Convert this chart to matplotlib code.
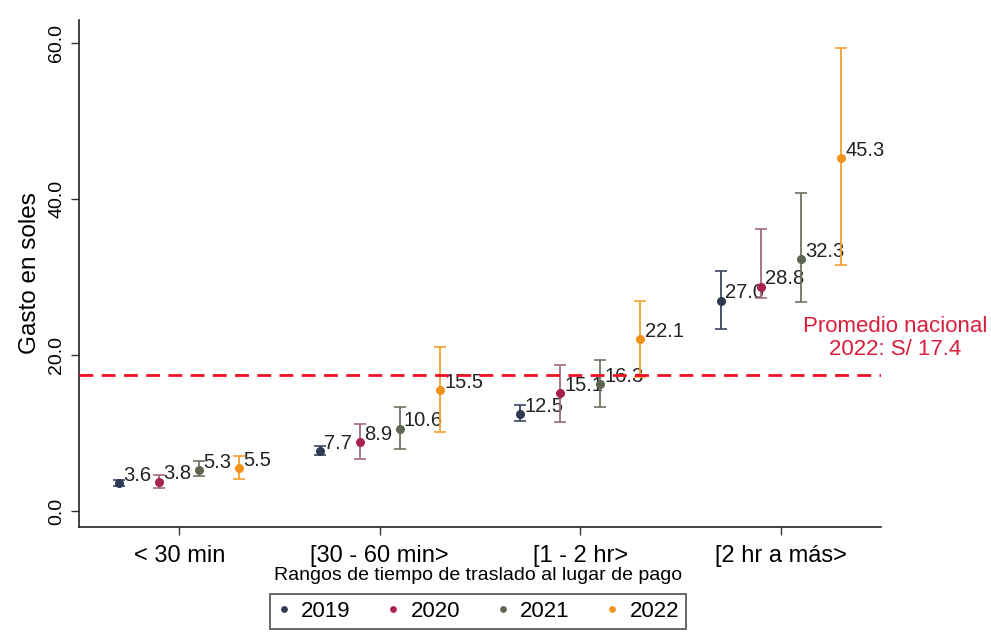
import matplotlib
matplotlib.use("Agg")
import matplotlib.pyplot as plt
import numpy as np

plt.rcParams['font.family'] = ['Liberation Sans', 'DejaVu Sans']

# ---- data ----
categories = ["< 30 min", "[30 - 60 min>", "[1 - 2 hr>", "[2 hr a más>"]
years = ["2019", "2020", "2021", "2022"]

gasto_2019 = [3.6, 7.7, 12.5, 27.0]
gasto_2020 = [3.8, 8.9, 15.1, 28.8]
gasto_2021 = [5.3, 10.6, 16.3, 32.3]
gasto_2022 = [5.5, 15.5, 22.1, 45.3]

ic_inf_2019 = [3.2, 7.2, 11.6, 23.3]
ic_sup_2019 = [4.0, 8.3, 13.6, 30.8]
ic_inf_2020 = [3.0, 6.7, 11.5, 27.3]
ic_sup_2020 = [4.7, 11.2, 18.7, 36.2]
ic_inf_2021 = [4.5, 8.0, 13.4, 26.8]
ic_sup_2021 = [6.4, 13.4, 19.4, 40.8]
ic_inf_2022 = [4.1, 10.1, 17.2, 31.5]
ic_sup_2022 = [7.1, 21.0, 27.0, 59.4]

promedio_nacional = 17.4

series = [
    (years[0], gasto_2019, ic_inf_2019, ic_sup_2019),
    (years[1], gasto_2020, ic_inf_2020, ic_sup_2020),
    (years[2], gasto_2021, ic_inf_2021, ic_sup_2021),
    (years[3], gasto_2022, ic_inf_2022, ic_sup_2022),
]

# ---- styles ----
marker_colors = ["#2c3a52", "#a8224c", "#5d6650", "#f0921c"]
err_colors = ["#3b4660", "#a06a80", "#6e7462", "#f2a030"]
offsets = [-0.3, -0.1, 0.1, 0.3]

fig = plt.figure(figsize=(9.91, 6.34), dpi=100)
ax = fig.add_axes([0.0797, 0.169, 0.8093, 0.80])

x = np.arange(1, len(categories) + 1)
handles = []
for i, (yr, vals, lo, hi) in enumerate(series):
    vals = np.array(vals)
    lo = np.array(lo)
    hi = np.array(hi)
    xi = x + offsets[i]
    ax.errorbar(xi, vals, yerr=[vals - lo, hi - vals], fmt='none',
                ecolor=err_colors[i], elinewidth=1.3, capsize=4.5, capthick=1.2,
                zorder=2 + i * 2)
    h = ax.plot(xi, vals, 'o', color=marker_colors[i], markersize=5.5,
                zorder=3 + i * 2, label=yr)[0]
    handles.append(h)
    for xv, v in zip(xi, vals):
        ax.annotate(f"{v:.1f}", (xv, v), xytext=(3, 5.5), textcoords='offset points',
                    ha='left', va='center', fontsize=14.5, color='#222222',
                    zorder=3 + i * 2)

ax.axhline(promedio_nacional, color='#ee1122', linestyle=(0, (5, 3)),
           linewidth=2, zorder=20)
ax.text(4.57, 19.4, "Promedio nacional\n2022: S/ 17.4", color='#d81e3c',
        fontsize=16, ha='center', va='bottom', clip_on=False, linespacing=1.1)

ax.set_xlim(0.5, 4.5)
ax.set_ylim(-2, 63)
ax.set_xticks(x)
ax.set_xticklabels(categories, fontsize=17)
ax.set_yticks([0, 20, 40, 60])
ax.set_yticklabels(["0.0", "20.0", "40.0", "60.0"], fontsize=14, rotation=90,
                   va='center')
ax.tick_params(axis='both', direction='out', length=6, width=1, color='#333333')
ax.tick_params(axis='x', pad=7)
ax.tick_params(axis='y', pad=4)
for s in ['top', 'right']:
    ax.spines[s].set_visible(False)
for s in ['left', 'bottom']:
    ax.spines[s].set_color('#222222')
    ax.spines[s].set_linewidth(1.2)

ax.set_ylabel("Gasto en soles", fontsize=17.5, labelpad=5)
fig.text(0.4825, 0.093, "Rangos de tiempo de traslado al lugar de pago",
         ha='center', va='center', fontsize=14)

leg = fig.legend(handles=handles, labels=years, loc='upper center',
                 bbox_to_anchor=(0.4825, 0.08), ncol=4, fontsize=16,
                 frameon=True, fancybox=False, edgecolor='#333333',
                 handlelength=0.6, handletextpad=0.5, columnspacing=1.6,
                 markerscale=0.7, borderpad=0.3)
leg.get_frame().set_linewidth(1.3)

fig.savefig("out.png", dpi=100)
